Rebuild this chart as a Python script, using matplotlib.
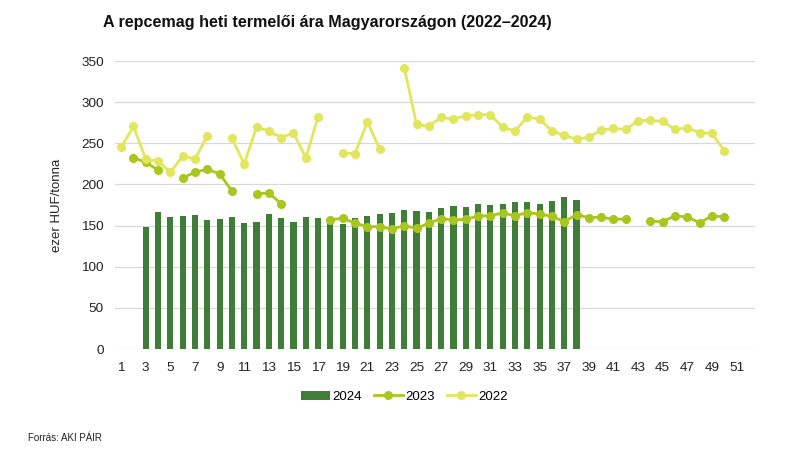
import numpy as np
import matplotlib
matplotlib.use("Agg")
import matplotlib.pyplot as plt

plt.rcParams['font.family'] = ['Liberation Sans', 'DejaVu Sans']

nan = np.nan
weeks = np.arange(1, 53)

# 2024 (bars), weeks 3..38
w2024 = np.arange(3, 39)
v2024 = [148.7, 166, 160.8, 162, 163.2, 156.8, 157.6, 160.4, 153.1, 153.9,
         163.6, 158.8, 154.3, 160.4, 158.8, 155.5, 151.9, 159.2, 162, 163.6,
         164.8, 168.5, 167.3, 166.5, 171.3, 173.7, 172.5, 176.6, 175, 175.8,
         178.2, 178.2, 175.8, 179.4, 185, 180.6]

v2023 = [nan, 232.5, 226.8, 217.5, nan, 207.8, 215, 218.3, 213, 192,
         nan, 188.8, 189.6, 176.6, nan, nan, nan, 157.2, 158.8, 153.1,
         148.7, 148.7, 145.8, 149.9, 146.6, 153.1, 158.4, 156.8, 157.6, 161.6,
         162, 165.3, 162, 165.7, 164, 161.2, 154.7, 163.4, 159.6, 160.4,
         157.6, 158, nan, 155.5, 154.7, 162, 160.4, 153.5, 161.6, 160.8,
         nan, nan]

v2022 = [245, 270.6, 230.5, 228.5, 214.7, 234.5, 231, 259, nan, 256,
         225, 270, 265, 257, 262.5, 232.5, 282, nan, 238.6, 237.4,
         276, 243.5, nan, 342, 273, 270.6, 281.5, 279.5, 283.6, 284.4,
         285, 269.4, 265, 282, 279.5, 265, 259.6, 255, 257.5, 266,
         268, 267, 277.5, 278, 276.6, 267, 269, 263, 262, 241,
         nan, nan]

c2024 = '#3f7d38'
c2023 = '#a8c61e'
c2022 = '#e2e65c'

fig = plt.figure(figsize=(7.96, 4.49), dpi=100)
ax = fig.add_axes([0.1445, 0.2227, 0.804, 0.6414])

b = ax.bar(w2024, v2024, width=0.5, color=c2024, label='2024', zorder=2)
l23, = ax.plot(weeks, v2023, color=c2023, lw=2, marker='o', ms=5.5, label='2023', zorder=3)
l22, = ax.plot(weeks, v2022, color=c2022, lw=2, marker='o', ms=5.5, label='2022', zorder=3)

ax.set_xlim(0.5, 52.5)
ax.set_ylim(0, 350)
ax.set_yticks(range(0, 351, 50))
ax.set_xticks(range(1, 52, 2))
ax.grid(axis='y', color='#d9d9d9', lw=0.9, zorder=0)
ax.set_axisbelow(True)
for s in ax.spines.values():
    s.set_visible(False)
ax.tick_params(length=0, labelsize=9.7, colors='#222222')
ax.tick_params(axis='y', pad=8)
ax.tick_params(axis='x', pad=9)

fig.text(0.071, 0.543, 'ezer HUF/tonna', rotation=90, ha='center', va='center',
         fontsize=9.5, color='#222222')
fig.text(0.129, 0.951, 'A repcemag heti termelői ára Magyarországon (2022–2024)',
         ha='left', va='center', fontsize=11.6, fontweight='bold', color='#111111')
fig.text(0.035, 0.024, 'Forrás: AKI PÁIR', ha='left', va='center', fontsize=7,
         color='#222222')

fig.legend([b, l23, l22], ['2024', '2023', '2022'], loc='center',
           bbox_to_anchor=(0.508, 0.116), ncol=3, frameon=False,
           fontsize=9.5, handlelength=2.2, columnspacing=0.9, handletextpad=0.2)

fig.savefig('out.png', dpi=100)
